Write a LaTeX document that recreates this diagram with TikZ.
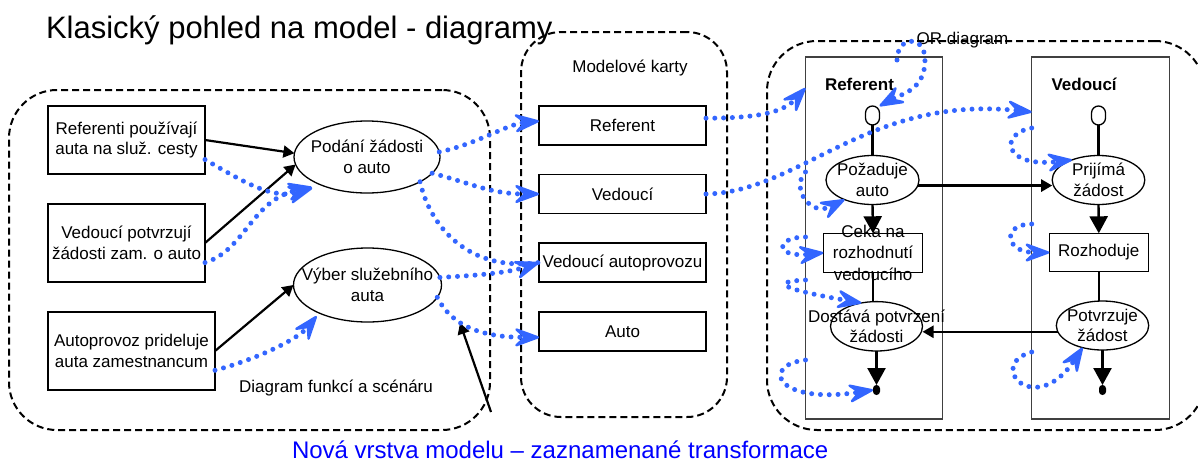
\documentclass[tikz,border=0pt]{standalone}
\usepackage{fontspec}
\setmainfont{Liberation Sans}
\usetikzlibrary{arrows.meta,calc,shapes.geometric}
\definecolor{flowblue}{RGB}{51,102,255}
\definecolor{notetext}{RGB}{0,0,255}
\begin{document}
\begin{tikzpicture}[x=0.5pt,y=-0.5pt,
  every node/.style={inner sep=0pt, outer sep=0pt, font=\fontsize{8.5}{10.3}\selectfont},
  group/.style={draw, dash pattern=on 3.5pt off 2pt, line width=1pt, rounded corners=#1},
  box/.style={draw, line width=0.65pt, align=center},
  oval/.style={draw, ellipse, line width=0.65pt},
  lane/.style={draw=black!75, line width=0.65pt, minimum width=68.5pt, minimum height=181pt},
  startnode/.style={draw, line width=0.65pt, fill=white, rounded corners=3.5pt, minimum width=7pt, minimum height=9.5pt},
  endnode/.style={fill=black, rounded corners=1.7pt, minimum width=3.5pt, minimum height=5pt},
  link/.style={line width=1.1pt, -{Triangle[length=5.5pt,width=6pt]}},
  flowlink/.style={line width=1.2pt, -{Triangle[length=8.5pt,width=9pt]}},
  plainlink/.style={line width=1.2pt},
  trace/.style={flowblue, line width=2.5pt, line cap=round, dash pattern=on 0pt off 4.4pt,
    -{Stealth[length=15pt,width=11pt,inset=6pt,line width=1.2pt,round]}},
  lanetitle/.style={anchor=west, font=\bfseries\fontsize{8.5}{10}\selectfont},
]
\path[use as bounding box, clip] (0,0) rectangle (1198,461);
\fill[white] (0,0) rectangle (1198,461);

% dashed containers
\node[group=24pt, minimum width=240.5pt, minimum height=170pt] (GL) at (249.5,260) {};
\node[group=20pt, minimum width=103pt, minimum height=192.5pt] (GM) at (624,224.5) {};
\node[group=25pt, minimum width=219pt, minimum height=194.5pt] (GR) at (986,235.5) {};

% headings and captions
\node[anchor=base west, font=\fontsize{15.5}{18}\selectfont] (title) at (46,38.5) {Klasický pohled na model - diagramy};
\node (ORl) at (962.5,40) {OR diagram};
\node (MK) at (630,68) {Modelové karty};
\node (DF) at (336,388) {Diagram funkcí a scénáru};
\node[anchor=base west, font=\fontsize{12}{14}\selectfont, text=notetext] (note) at (292,458) {Nová vrstva modelu – zaznamenané transformace};

% function and scenario diagram
\node[box, minimum width=78.5pt, minimum height=34pt] (A) at (126.5,140) {Referenti používají\\auta na služ. cesty};
\node[box, minimum width=78.5pt, minimum height=39pt] (B) at (126.5,243) {Vedoucí potvrzují\\žádosti zam. o auto};
\node[box, minimum width=83.5pt, minimum height=39pt] (C) at (131.5,351) {Autoprovoz prideluje\\auta zamestnancum};
\node[oval, minimum width=73pt, minimum height=36pt, label={[align=center]center:Podání žádosti\\o auto}] (P) at (367,157) {};
\node[oval, minimum width=74pt, minimum height=37pt, label={[align=center]center:Výber služebního\\auta}] (V) at (367.5,285) {};

% model cards
\node[box, minimum width=83.5pt, minimum height=19.5pt] (R1) at (622.5,125.5) {Referent};
\node[box, minimum width=83.5pt, minimum height=19.5pt] (R2) at (622.5,194) {Vedoucí};
\node[box, minimum width=83.5pt, minimum height=19.5pt] (R3) at (622.5,262.5) {Vedoucí autoprovozu};
\node[box, minimum width=83.5pt, minimum height=19.5pt] (R4) at (622.5,331.5) {Auto};

% OR diagram swimlanes
\node[lane] (LR) at (874,238) {};
\node[lane, minimum width=68.9pt] (LV) at (1100.6,238) {};
\node[lanetitle] (LRt) at (825,84) {Referent};
\node[lanetitle] (LVt) at (1051.5,84) {Vedoucí};

\node[startnode] (SR) at (872.5,115.5) {};
\node[startnode] (SV) at (1098.5,115.5) {};
\node[oval, minimum width=46.5pt, minimum height=24.5pt, label={[align=center]center:Požaduje\\auto}] (PZ) at (872.5,180) {};
\node[oval, minimum width=46.3pt, minimum height=24.5pt, label={[align=center]center:Prijímá\\žádost}] (PJ) at (1098.5,180) {};
\node[box, minimum width=49.7pt, minimum height=19.5pt, label={[align=center, font=\fontsize{8.5}{10.6}\selectfont]center:Ceka na\\rozhodnutí\\vedoucího}] (CK) at (873,252.8) {};
\node[box, minimum width=49.5pt, minimum height=19.2pt] (RZ) at (1098.8,252.5) {Rozhoduje};
\node[oval, minimum width=46pt, minimum height=24.7pt, label={[align=center]center:Dostává potvrzení\\žádosti}] (DP) at (876.5,326.3) {};
\node[oval, minimum width=46.2pt, minimum height=24.5pt, label={[align=center]center:Potvrzuje\\žádost}] (PT) at (1102.5,325.5) {};
\node[endnode] (ER) at (876.5,390) {};
\node[endnode] (EV) at (1102.5,390) {};

% black connectors
\draw[link] (A.east) -- (P.177);
\draw[link] (B.east) -- (P.186);
\draw[link] (C.east) -- (V.west);
\coordinate (newTail) at (491,412);
\coordinate (newTip) at (460,323);
\draw[link] (newTail) -- (newTip);

\draw[plainlink] (SR.south) -- (PZ.north);
\draw[plainlink] (SV.south) -- (PJ.north);
\draw[flowlink] (PZ.south) -- (CK.north);
\draw[flowlink] (PJ.south) -- (RZ.north);
\draw[plainlink] (CK.south) -- (CK.south |- DP.north);
\draw[plainlink] (RZ.south) -- (RZ.south |- PT.north);
\draw[flowlink] (DP.south) -- (ER.north);
\draw[flowlink] (PT.south) -- (EV.north);
\draw[link, line width=1.2pt] (PZ.-7) -- (PZ.-7 -| PJ.west);
\draw[link, line width=1.2pt] (PT.188) -- (PT.188 -| DP.east);

% recorded transformations (blue dotted traces)
\draw[trace, shorten >=5pt] (A.-14) .. controls +(35,20) and +(-50,15) .. (P.212);
\draw[trace, shorten >=5pt] (B.-14) .. controls +(40,-12) and +(-70,14) .. (P.212);
\draw[trace] (P.4) .. controls +(38,-8) and +(-32,3) .. (R1.177);
\draw[trace] (P.-14) .. controls +(36,9) and +(-49,0) .. (R2.west);
\draw[trace, -] (P.-25) .. controls +(10,45) and +(-70,10) .. (R3.west);
\draw[trace] (V.6) .. controls +(40,-2) and +(-30,10) .. (R3.west);
\draw[trace] (V.-10) .. controls +(15,30) and +(-55,0) .. (R4.184);
\draw[trace, shorten >=2pt] (C.-13) .. controls +(45,-12) and +(-20,25) .. (V.210);

\draw[trace] (R1.5) .. controls +(60,0) and +(-20,22) .. ([yshift=-15.5pt]LR.north west);
\draw[trace] (R2.east) .. controls +(94,-2) and +(-164,-17) .. ([yshift=-27.5pt]LV.north west);
\coordinate (orTail) at (897,60);
\coordinate (orTurn) at (925,60);
\draw[trace] (orTail) .. controls +(0,-24) and +(0,-26) .. (orTurn) .. controls +(0,30) and +(22,-12) .. (SR.north east);

\draw[trace] ([yshift=-35.5pt]LV.north west) .. controls +(-32,5) and +(-70,8) .. (PJ.143);
\draw[trace] ([yshift=-57.5pt]LR.north west) .. controls +(-15,15) and +(-35,18) .. (PZ.215);
\draw[trace] ([yshift=-90pt]LR.north west) .. controls +(-30,0) and +(-50,5) .. (CK.west);
\draw[trace] ([yshift=-111.5pt]LR.north west) .. controls +(-40,2) and +(-75,-13) .. (DP.123);
\draw[trace] ([yshift=-151.5pt]LR.north west) .. controls +(-45,5) and +(-98,15) .. (ER.west);
\draw[trace] ([yshift=-83.5pt]LV.north west) .. controls +(-30,0) and +(-45,0) .. (RZ.west);
\draw[trace] ([yshift=-147.5pt]LV.north west) .. controls +(-47,13) and +(-47,72) .. (PT.228);
\end{tikzpicture}
\end{document}
